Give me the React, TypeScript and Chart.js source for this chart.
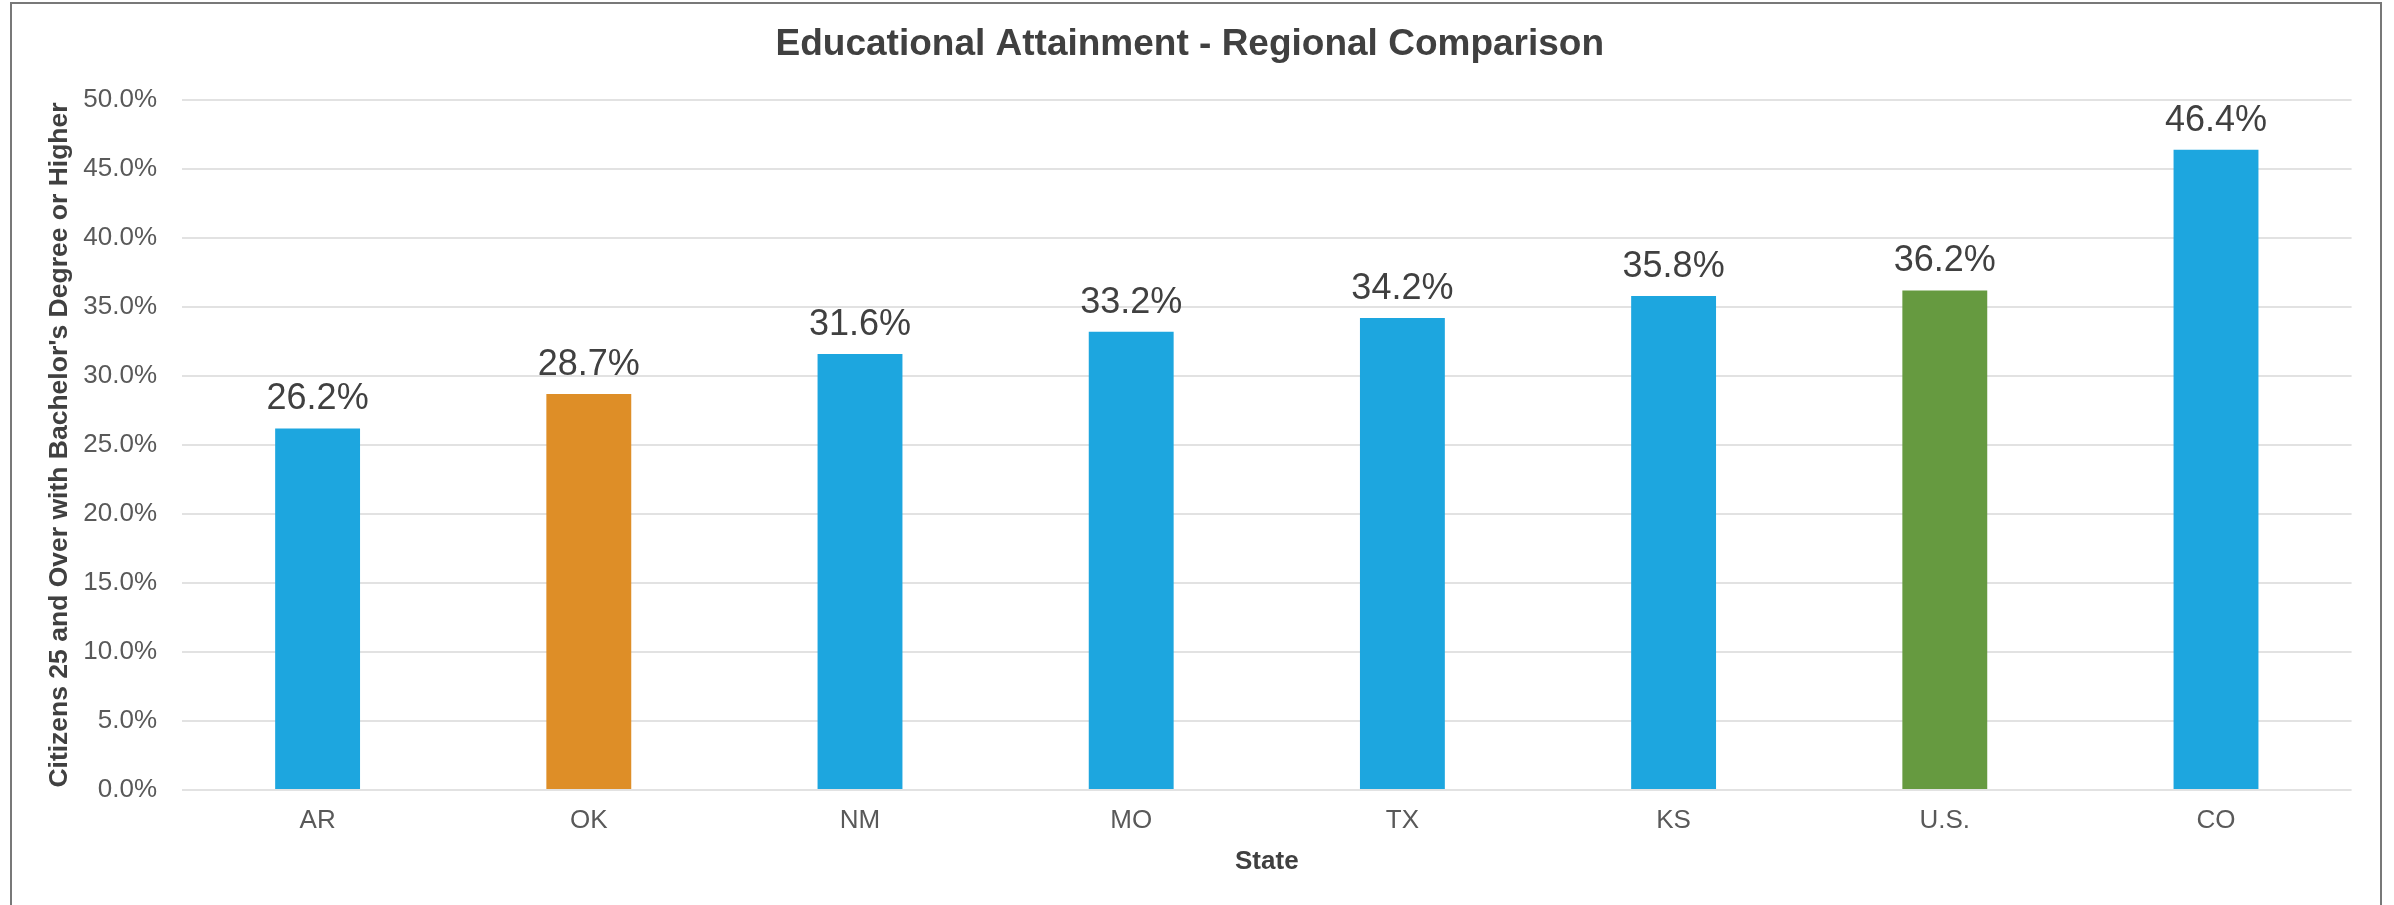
import React, { useEffect, useRef } from "react";
import { Chart, registerables } from "chart.js";

Chart.register(...registerables);

const categories: string[] = ["AR", "OK", "NM", "MO", "TX", "KS", "U.S.", "CO"];
const values: number[] = [26.2, 28.7, 31.6, 33.2, 34.2, 35.8, 36.2, 46.4];
const barColors: string[] = [
  "#1DA6DF",
  "#DE8E27",
  "#1DA6DF",
  "#1DA6DF",
  "#1DA6DF",
  "#1DA6DF",
  "#669A40",
  "#1DA6DF",
];
const chartTitle = "Educational Attainment - Regional Comparison";
const yTitle = "Citizens 25 and Over with Bachelor's Degree or Higher";
const xTitle = "State";

const FONT = "'Liberation Sans', Arial, sans-serif";

const dataLabelPlugin = {
  id: "dataLabels",
  afterDatasetsDraw(chart: any) {
    const ctx = chart.ctx;
    const meta = chart.getDatasetMeta(0);
    const ds = chart.data.datasets[0];
    ctx.save();
    ctx.font = `36px ${FONT}`;
    ctx.fillStyle = "#404040";
    ctx.textAlign = "center";
    ctx.textBaseline = "alphabetic";
    meta.data.forEach((bar: any, i: number) => {
      const v = ds.data[i] as number;
      ctx.fillText(v.toFixed(1) + "%", bar.x, bar.y - 19);
    });
    ctx.restore();
  },
};

export default function App() {
  const canvasRef = useRef<HTMLCanvasElement | null>(null);

  useEffect(() => {
    if (!canvasRef.current) return;
    const chart = new Chart(canvasRef.current, {
      type: "bar",
      data: {
        labels: categories,
        datasets: [
          {
            data: values,
            backgroundColor: barColors,
            borderWidth: 0,
            barPercentage: 0.313,
            categoryPercentage: 1,
          },
        ],
      },
      plugins: [dataLabelPlugin],
      options: {
        animation: false,
        responsive: true,
        maintainAspectRatio: false,
        devicePixelRatio: 1,
        layout: {
          padding: { left: 28, right: 42.4, top: 0, bottom: 0 },
        },
        plugins: {
          legend: { display: false },
          tooltip: { enabled: false },
          title: {
            display: true,
            text: chartTitle,
            color: "#404040",
            font: { family: FONT, size: 37, weight: "bold", lineHeight: 1.2 },
            padding: { top: 23, bottom: 32.6 },
          },
        },
        scales: {
          x: {
            grid: { display: false, drawTicks: false },
            border: { display: false },
            ticks: {
              color: "#595959",
              font: { family: FONT, size: 26 },
              padding: 15,
              maxRotation: 0,
            },
            title: {
              display: true,
              text: xTitle,
              color: "#404040",
              font: { family: FONT, size: 26, weight: "bold", lineHeight: 1.2 },
              padding: { top: 0, bottom: 28 },
            },
            afterFit: (scale: any) => {
              scale.height = 115;
            },
          },
          y: {
            min: 0,
            max: 50,
            grid: {
              color: "#e2e2e2",
              lineWidth: 2,
              drawTicks: false,
            },
            border: { display: false },
            ticks: {
              stepSize: 5,
              color: "#595959",
              font: { family: FONT, size: 26 },
              padding: 25,
              callback: (v: any) => Number(v).toFixed(1) + "%",
            },
            title: {
              display: true,
              text: yTitle,
              color: "#404040",
              font: { family: FONT, size: 26.5, weight: "bold", lineHeight: 1.2 },
              padding: { top: 16, bottom: 0 },
            },
            afterFit: (scale: any) => {
              scale.width = 154;
            },
          },
        },
      } as any,
    });
    return () => chart.destroy();
  }, []);

  return (
    <>
      <div
        style={{
          position: "fixed",
          left: 0,
          top: 0,
          width: 2394,
          height: 905,
          background: "#ffffff",
        }}
      >
        <canvas ref={canvasRef} />
      </div>
      <div
        style={{
          position: "fixed",
          left: 10,
          top: 2,
          width: 2372,
          height: 903,
          boxSizing: "border-box",
          borderLeft: "2px solid #787878",
          borderTop: "2px solid #787878",
          borderRight: "2px solid #787878",
          pointerEvents: "none",
        }}
      />
    </>
  );
}
